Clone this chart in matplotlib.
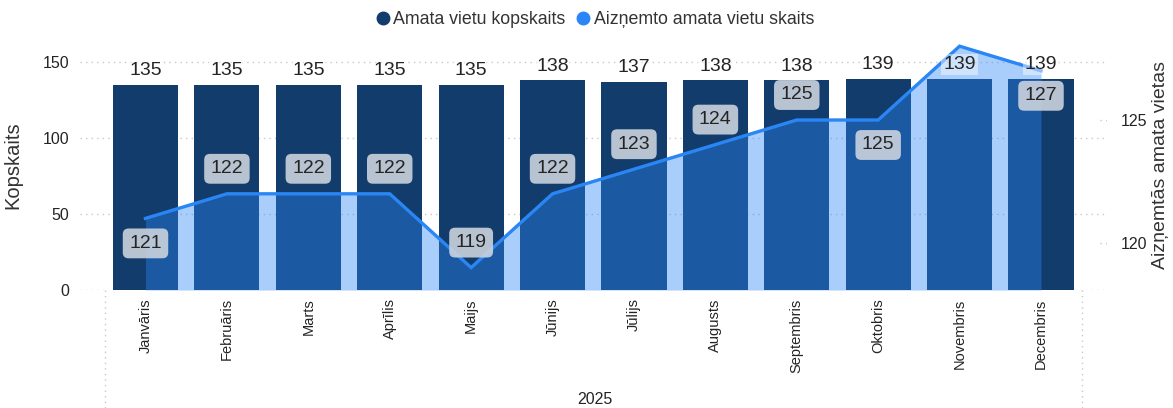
import matplotlib.pyplot as plt
import numpy as np

months = ['Janvāris', 'Februāris', 'Marts', 'Aprīlis', 'Maijs', 'Jūnijs',
          'Jūlijs', 'Augusts', 'Septembris', 'Oktobris', 'Novembris', 'Decembris']
total = [135, 135, 135, 135, 135, 138, 137, 138, 138, 139, 139, 139]
occupied = [121, 122, 122, 122, 119, 122, 123, 124, 125, 125, 128, 127]
# where the line label sits: 1 above the point, -1 below, 0 hidden
label_side = [-1, 1, 1, 1, 1, 1, 1, 1, 1, -1, 0, -1]
year = '2025'

navy = '#123C6B'
blue = '#2A86F5'
txt = '#252423'

plt.rcParams['font.family'] = ['Liberation Sans', 'DejaVu Sans']

fig = plt.figure(figsize=(11.73, 4.08), dpi=100)
ax = fig.add_axes([80/1173, 1-290/408, 1027/1173, 250/408])
x = np.arange(len(months))
px = 81.4
ax.set_xlim(-65.5/px, 11 + 66/px)
ax.set_ylim(0, 250/1.52)

ax.bar(x, total, width=0.8, color=navy, zorder=2)
ax.set_yticks([0, 50, 100, 150])
ax.grid(axis='y', color='#C8C8C8', linestyle=(0, (1, 3)), linewidth=1, zorder=0)
ax.set_axisbelow(True)
for s in ax.spines.values():
    s.set_visible(False)
ax.tick_params(axis='both', length=0, colors=txt)
ax.tick_params(axis='y', labelsize=11.5, pad=8)
ax.set_xticks(x)
ax.set_xticklabels(months, rotation=90, fontsize=10.5, va='top')
ax.tick_params(axis='x', pad=6)
ax.set_ylabel('Kopskaits', fontsize=14.5, color='#333333')
ax.yaxis.set_label_coords(-58/1027, 0.5)

ax2 = ax.twinx()
ax2.set_ylim(125 - 170/24.6, 125 + 80/24.6)
ax2.set_yticks([120, 125])
for s in ax2.spines.values():
    s.set_visible(False)
ax2.tick_params(axis='y', length=0, labelsize=11.5, colors=txt, pad=10)
for v in [120, 125]:
    ax2.axhline(v, xmin=0.993, xmax=1.0, color='#C8C8C8', linestyle=(0, (1, 3)), linewidth=1)
ax2.set_ylabel('Aizņemtās amata vietas', fontsize=14, color='#333333')
ax2.yaxis.set_label_coords(1 + 45/1027, 0.5)

ax2.fill_between(x, occupied, ax2.get_ylim()[0], color=blue, alpha=0.4, linewidth=0, zorder=3)
ax2.plot(x, occupied, color=blue, linewidth=2.4, zorder=4, solid_joinstyle='miter')

# bar labels (drawn on ax2 so they sit above the area)
for xi, v in zip(x, total):
    ax2.annotate(str(v), (xi, v), xycoords=ax.transData, xytext=(0, 4), textcoords='offset points',
                 ha='center', va='bottom', fontsize=14, color=txt, zorder=6,
                 bbox=dict(boxstyle='square,pad=0.1', fc='white', ec='none', alpha=0.45))

for xi, v, side in zip(x, occupied, label_side):
    if side == 0:
        continue
    ax2.annotate(str(v), (xi, v), xytext=(0, 18 * side), textcoords='offset points',
                 ha='center', va='center', fontsize=14, color=txt, zorder=7,
                 bbox=dict(boxstyle='round,pad=0.33,rounding_size=0.3', fc='#CBD3DE', ec='none', alpha=0.9))

# category separators and year
for xv in [-0.5, 11.5]:
    ax.plot([xv, xv], [0, -80], color='#C8C8C8', linestyle=(0, (1, 3)), linewidth=1, clip_on=False)
fig.text(595/1173, 1-400/408, year, ha='center', va='center', fontsize=11.5, color=txt)

# legend
h1 = plt.Line2D([], [], marker='o', linestyle='none', color=navy, markersize=9)
h2 = plt.Line2D([], [], marker='o', linestyle='none', color=blue, markersize=9)
fig.legend([h1, h2], ['Amata vietu kopskaits', 'Aizņemto amata vietu skaits'],
           loc='center', bbox_to_anchor=(595/1173, 1-20/408), ncol=2, frameon=False,
           fontsize=12.8, handlelength=0.8, handletextpad=0.2, columnspacing=0.6,
           labelcolor='#333333')

fig.savefig('out.png', dpi=100)
